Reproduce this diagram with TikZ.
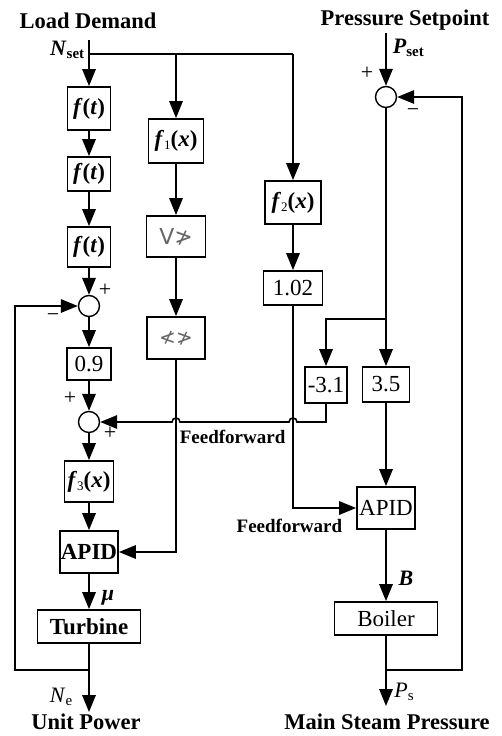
\documentclass[tikz,border=0pt]{standalone}
\usepackage{fontspec}
\setmainfont{Liberation Serif}
\newfontfamily\symfont{DejaVu Sans}
\usetikzlibrary{arrows.meta}
\begin{document}
\begin{tikzpicture}[x=1pt,y=-1pt, line width=1.6pt,
  blk/.style={draw, line width=1.8pt, inner sep=0pt, font=\fontsize{23}{26}\selectfont},
  bx/.style n args={2}{blk, minimum width=#1, minimum height=#2},
  sumc/.style={draw, circle, line width=1.4pt, minimum size=21pt, inner sep=0pt},
  arr/.style={-{Triangle[length=17pt,width=13.5pt]}},
  head/.style={font=\fontsize{22.5}{25}\selectfont\bfseries, inner sep=0pt},
  sgn/.style={font=\fontsize{22}{24}\selectfont, inner sep=0pt},
  lab/.style={font=\fontsize{22}{24}\selectfont, inner sep=0pt},
  ff/.style={font=\fontsize{19}{22}\selectfont\bfseries, inner sep=0pt}]
\useasboundingbox (0,0) rectangle (501,736);

% headings
\node[head] (hld) at (88,20.5) {Load Demand};
\node[head] (hps) at (405,20.5) {Pressure Setpoint};
\node[head] (hup) at (86,722) {Unit Power};
\node[head] (hms) at (387,722) {Main Steam Pressure};

% left column blocks
\node[bx={43pt}{43pt}] (ft1) at (89,108.5) {\textbf{\textit{f}(\textit{t})}};
\node[bx={43pt}{34pt}] (ft2) at (89,174) {\textbf{\textit{f}(\textit{t})}};
\node[bx={43pt}{40pt}] (ft3) at (89,247) {\textbf{\textit{f}(\textit{t})}};
\node[sumc] (s1) at (89,306) {};
\node[bx={44pt}{32pt}] (k09) at (89,364) {0.9};
\node[sumc] (s2) at (89,422) {};
\node[bx={49pt}{41pt}] (f3) at (89,481.5) {\textbf{\textit{f}\raisebox{-0.3ex}{\fontsize{13}{13}\selectfont\mdseries 3}(\textit{x})}};
\node[bx={58pt}{42pt}] (apl) at (89,552) {\textbf{APID}};
\node[bx={103pt}{33pt}] (turb) at (89,626.5) {\textbf{Turbine}};

% second column
\node[bx={55pt}{44pt}] (f1) at (176,141) {\textbf{\textit{f}\raisebox{-0.3ex}{\fontsize{13}{13}\selectfont\mdseries 1}(\textit{x})}};
\node[bx={59pt}{41pt}] (ge) at (176,236.5) {\symfont\fontsize{22}{24}\selectfont\color{black!60}V≯};
\node[bx={58pt}{42pt}] (nl) at (176,338) {\symfont\fontsize{20}{24}\selectfont\color{black!60}≮≯};

% third column
\node[bx={56pt}{43pt}] (f2) at (293,202.5) {\textbf{\textit{f}\raisebox{-0.3ex}{\fontsize{13}{13}\selectfont\mdseries 2}(\textit{x})}};
\node[bx={59pt}{34pt}] (r102) at (293,288) {1.02};

% pressure column
\node[sumc] (sp) at (386,97) {};
\node[bx={42pt}{36pt}] (km31) at (326,385) {-3.1};
\node[bx={47pt}{35pt}] (k35) at (386,384.5) {3.5};
\node[bx={58pt}{42pt}] (apr) at (386,508) {APID};
\node[bx={103pt}{33pt}] (boiler) at (386,618.5) {Boiler};

% labels
\node[lab, anchor=east] (lnset) at (85,50) {\textbf{\textit{N}}\raisebox{-0.3ex}{\fontsize{15}{15}\selectfont\bfseries set}};
\node[lab, anchor=west] (lpset) at (392,48) {\textbf{\textit{P}}\raisebox{-0.3ex}{\fontsize{15}{15}\selectfont\bfseries set}};
\node[sgn] (pl1) at (367,73) {+};
\node[sgn] (mi1) at (413,113) {\textminus};
\node[sgn] (pl2) at (105,290) {+};
\node[sgn] (mi2) at (53,318) {\textminus};
\node[sgn] (pl3) at (70,398) {+};
\node[sgn] (pl4) at (110,433) {+};
\node[lab] (lmu) at (108,598) {\textbf{\textit{μ}}};
\node[lab] (lb) at (406,578) {\textbf{\textit{B}}};
\node[lab] (lne) at (61,697) {\textit{N}\raisebox{-0.3ex}{\fontsize{15}{15}\selectfont e}};
\node[lab] (lps) at (404,692) {\textit{P}\raisebox{-0.3ex}{\fontsize{15}{15}\selectfont s}};
\node[ff, anchor=west] (ff1) at (179,437) {Feedforward};
\node[ff, anchor=east] (ff2) at (343,526) {Feedforward};

% coordinates
\coordinate (nset) at (89,40);
\coordinate (j0) at (89,54);
\coordinate (br1) at (176,54);
\coordinate (br2) at (293,54);
\coordinate (ne) at (89,712);
\coordinate (lj) at (89,670);
\coordinate (l1) at (15,670);
\coordinate (l2) at (15,306);
\coordinate (c1) at (176,552);
\coordinate (c2) at (293,508);
\coordinate (pset) at (386,33);
\coordinate (c3) at (386,319);
\coordinate (c4) at (326,319);
\coordinate (c5) at (326,422);
\coordinate (psend) at (386,706);
\coordinate (pj) at (386,670);
\coordinate (pr) at (462,670);
\coordinate (pr2) at (462,97);

% main left chain
\draw[arr] (nset) -- (ft1);
\draw (j0) -- (br2);
\draw[arr] (br1) -- (f1);
\draw[arr] (br2) -- (f2);
\draw[arr] (ft1) -- (ft2);
\draw[arr] (ft2) -- (ft3);
\draw[arr] (ft3) -- (s1);
\draw[arr] (s1) -- (k09);
\draw[arr] (k09) -- (s2);
\draw[arr] (s2) -- (f3);
\draw[arr] (f3) -- (apl);
\draw[arr] (apl) -- (turb);
\draw[arr] (turb) -- (ne);
\draw[arr] (lj) -- (l1) -- (l2) -- (s1.west);

% second column chain
\draw[arr] (f1) -- (ge);
\draw[arr] (ge) -- (nl);
\draw[arr] (nl) -- (c1) -- (apl.east);

% third column
\draw[arr] (f2) -- (r102);
\draw[arr] (r102) -- (c2) -- (apr.west);

% pressure
\draw[arr] (pset) -- (sp);
\draw[arr] (sp) -- (k35);
\draw[arr] (c3) -- (c4) -- (km31);
\draw[arr] (k35) -- (apr);
\draw[arr] (apr) -- (boiler);
\draw[arr] (boiler) -- (psend);
\draw[arr] (pj) -- (pr) -- (pr2) -- (sp.east);

% feedforward with jumps
\draw[arr] (km31) -- (c5) -- (297,422) .. controls (297,416.7) and (289,416.7) .. (289,422)
  -- (180,422) .. controls (180,416.7) and (172,416.7) .. (172,422) -- (s2.east);
\end{tikzpicture}
\end{document}
